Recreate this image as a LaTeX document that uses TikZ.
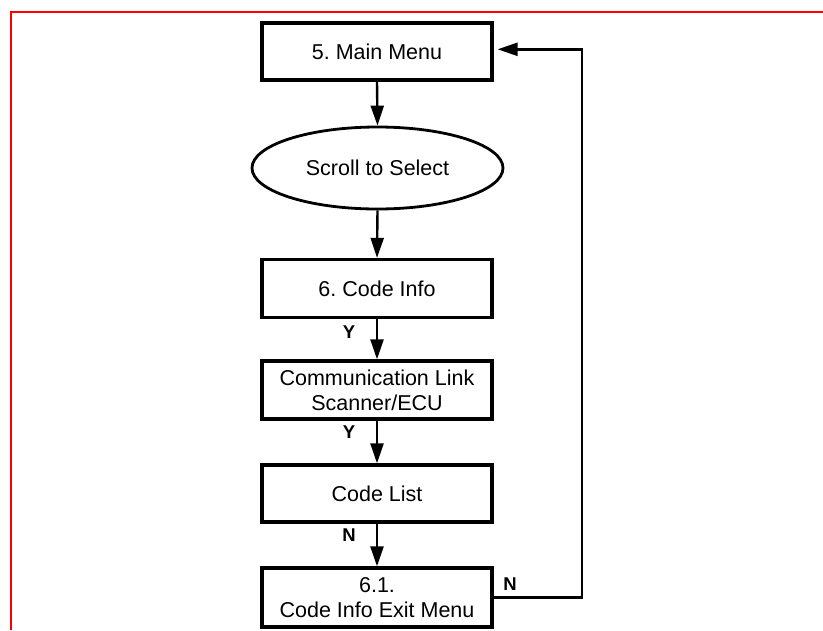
\documentclass[tikz,border=0pt]{standalone}
\usepackage{fontspec}
\setmainfont{Liberation Sans}
\usetikzlibrary{shapes.geometric,arrows.meta}
\frenchspacing
\begin{document}
\begin{tikzpicture}[x=1pt,y=-1pt,
  box/.style={draw,line width=3.3pt,minimum width=230pt,inner sep=0pt,align=center,font=\fontsize{21.5}{25}\selectfont},
  oval/.style={draw,ellipse,line width=2.8pt,minimum width=251pt,minimum height=82pt,inner sep=0pt,font=\fontsize{21.5}{25}\selectfont},
  arr/.style={line width=2.4pt,-{Triangle[length=20pt,width=13pt]}},
  lbl/.style={font=\fontsize{18.5}{22}\selectfont\bfseries,inner sep=0pt},
  frame/.style={red,line width=2.8pt}]
\useasboundingbox (0,0) rectangle (823,630);
\draw[frame] (11,630) -- (11,12) -- (823,12);
\node[box,minimum height=57pt] (main) at (377,51.4) {5. Main Menu};
\node[oval] (scroll) at (377.5,168) {Scroll to Select};
\node[box,minimum height=58pt] (info) at (377,288.5) {6. Code Info};
\node[box,minimum height=58pt] (comm) at (377,390) {Communication Link\\Scanner/ECU};
\node[box,minimum height=57pt] (list) at (377,493.5) {Code List};
\node[box,minimum height=59pt] (exit) at (377,597.5) {6.1.\\Code Info Exit Menu};
\coordinate (ret) at (582,49.3);
\draw[arr] (main.south) -- (scroll.north);
\draw[arr] (scroll.south) -- (info.north);
\draw[arr] (info.south) -- (comm.north);
\draw[arr] (comm.south) -- (list.north);
\draw[arr] (list.south) -- (exit.north);
\draw[arr,shorten >=4pt] (exit.east) -| (ret) -- (main.east |- ret);
\node[lbl] (y1) at (349,332) {Y};
\node[lbl] (y2) at (349,432) {Y};
\node[lbl] (n1) at (349,535) {N};
\node[lbl] (n2) at (510,584) {N};
\end{tikzpicture}
\end{document}
